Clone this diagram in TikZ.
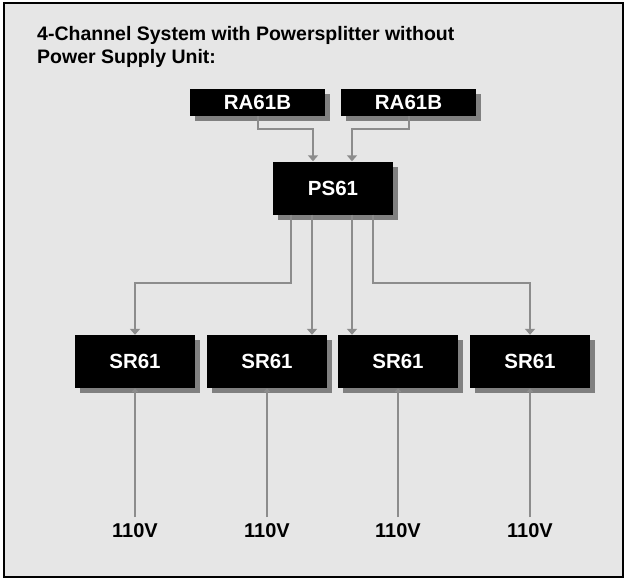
\documentclass[tikz,border=0pt]{standalone}
\usepackage{fontspec}
\setmainfont{Liberation Sans}
\usetikzlibrary{positioning,arrows.meta,shadows}
\definecolor{PanelGray}{HTML}{E6E6E6}
\definecolor{WireGray}{HTML}{8C8C8C}
\definecolor{ShadowGray}{HTML}{808080}

\begin{document}
\begin{tikzpicture}[
      x=1pt,y=-1pt,
      unit/.style={fill=black,text=white,inner sep=0pt,
        font=\fontsize{20.5}{24}\selectfont\bfseries,
        general shadow={fill=ShadowGray,shadow xshift=5pt,shadow yshift=-5pt}},
      remote/.style={unit,minimum width=135pt,minimum height=27pt},
      rack/.style={unit,minimum width=120pt,minimum height=53pt},
      wire/.style={draw=WireGray,line width=2pt},
      feed/.style={wire,-{Triangle[width=10pt,length=6pt]}},
      tap/.style={wire,-{Triangle[width=7pt,length=4pt]}},
      volt/.style={font=\fontsize{20}{24}\selectfont\bfseries,inner sep=0pt}
    ]
    \useasboundingbox (0,0) rectangle (628,579);
    \draw[line width=2pt,fill=PanelGray] (4,3) rectangle (623,577);
    \node[anchor=base west,align=left,inner sep=0pt,
      font=\fontsize{19.5}{23}\selectfont\bfseries] (title) at (37,63)
      {4-Channel System with Powersplitter without\\Power Supply Unit:};
    \node[remote] (ra1) at (257.5,102.5) {RA61B};
    \node[remote] (ra2) at (408.5,102.5) {RA61B};
    \node[rack] (ps) at (333,188) {PS61};
    \node[rack] (sr1) at (135,361.5) {SR61};
    \node[rack] (sr2) at (267,361.5) {SR61};
    \node[rack] (sr3) at (398,361.5) {SR61};
    \node[rack] (sr4) at (530,361.5) {SR61};
    % remotes into the splitter
    \draw[feed] (ra1.south) -- ++(0,13) -| ([xshift=-20pt]ps.north);
    \draw[feed] (ra2.south) -- ++(0,13) -| ([xshift=19pt]ps.north);
    % splitter out to the racks
    \draw[feed] ([xshift=-42pt]ps.south) -- ++(0,68) -| (sr1.north);
    \draw[feed] ([xshift=-21pt]ps.south) -- ([xshift=-21pt]ps.south |- sr2.north);
    \draw[feed] ([xshift=19pt]ps.south) -- ([xshift=19pt]ps.south |- sr3.north);
    \draw[feed] ([xshift=40pt]ps.south) -- ++(0,68) -| (sr4.north);
    % mains
    \foreach \i/\x in {1/135,2/267,3/398,4/530}{
      \coordinate (m\i) at (\x,517);
      \node[volt,anchor=base] (v\i) at (\x,537) {110V};
      \draw[tap] (m\i) -- (sr\i.south);
    }
  \end{tikzpicture}
\end{document}
